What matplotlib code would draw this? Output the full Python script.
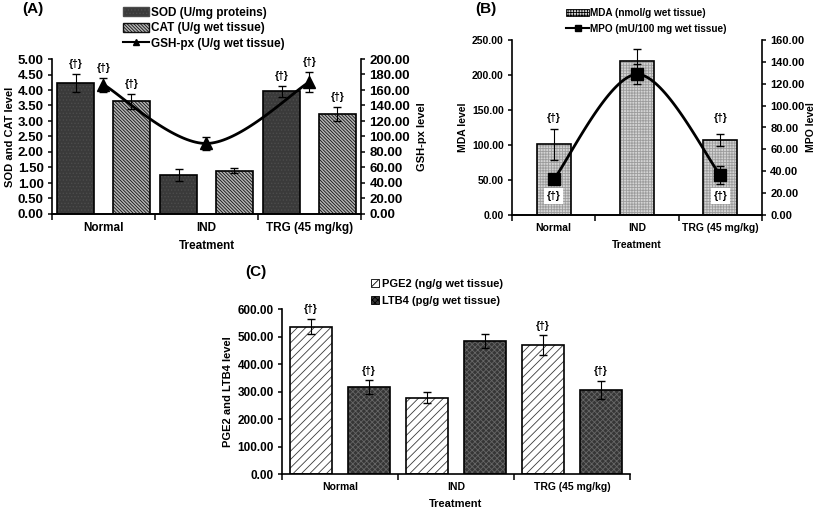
import numpy as np
import matplotlib
matplotlib.use('Agg')
import matplotlib.pyplot as plt
from matplotlib.patches import Patch
from matplotlib.lines import Line2D
from matplotlib.ticker import FormatStrFormatter, MultipleLocator

# ---- data ----
groups = ['Normal', 'IND', 'TRG (45 mg/kg)']

# (A)
sod = [4.22, 1.25, 3.96]
sod_err = [0.30, 0.20, 0.17]
cat = [3.63, 1.40, 3.23]
cat_err = [0.25, 0.08, 0.22]
gsh = [167.0, 91.0, 170.5]
gsh_err = [9.0, 8.0, 13.0]

# (B)
mda = [101.0, 220.5, 107.0]
mda_err = [22.0, 17.0, 8.0]
mpo = [32.5, 128.6, 36.6]
mpo_err = [0.0, 9.0, 8.5]

# (C)
pge2 = [536.0, 278.0, 469.0]
pge2_err = [28.0, 20.0, 35.0]
ltb4 = [316.0, 484.0, 306.0]
ltb4_err = [25.0, 26.0, 34.0]

DAG = '{\u2020}'

plt.rcParams['font.family'] = ['Liberation Sans', 'DejaVu Sans']
plt.rcParams['font.weight'] = 'bold'
plt.rcParams['axes.labelweight'] = 'bold'
plt.rcParams['hatch.linewidth'] = 0.6

# bar styles: face, hatch, hatch colour
ST_SOD = ('#3a3a3a', '.....', '#4c4c4c')
ST_CAT = ('#b4b4b4', '\\' * 10, '#111111')
ST_MDA = ('#d4d4d4', '++++++', '#9c9c9c')
ST_PGE = ('white', '////', '#3a3a3a')
ST_LTB = ('#363636', 'xxxxxx', '#666666')


def hbar(ax, x, h, w, st):
    face, hatch, hc = st
    ax.bar(x, h, w, color=face, hatch=hatch, edgecolor=hc, linewidth=0, zorder=2)
    ax.bar(x, h, w, fill=False, edgecolor='black', linewidth=1.2, zorder=3)


def smooth(xs, ys, n=40):
    # excel style smoothed line (cubic bezier through the points)
    pts = np.column_stack([xs, ys]).astype(float)
    p = np.vstack([pts[0], pts, pts[-1]])
    out = []
    t = np.linspace(0, 1, n)[:, None]
    for i in range(1, len(p) - 2):
        p0, p1, p2, p3 = p[i - 1], p[i], p[i + 1], p[i + 2]
        c1 = p1 + (p2 - p0) / 6.0
        c2 = p2 - (p3 - p1) / 6.0
        out.append((1 - t) ** 3 * p1 + 3 * (1 - t) ** 2 * t * c1
                   + 3 * (1 - t) * t ** 2 * c2 + t ** 3 * p2)
    out = np.vstack(out)
    return out[:, 0], out[:, 1]


def style_axis(ax, ymax, step, xsize, ysize, right=False):
    ax.set_xlim(-0.5, 2.5)
    ax.set_ylim(0, ymax)
    ax.yaxis.set_major_locator(MultipleLocator(step))
    ax.yaxis.set_major_formatter(FormatStrFormatter('%.2f'))
    ax.spines['top'].set_visible(False)
    if not right:
        ax.spines['right'].set_visible(False)
    for s in ['left', 'bottom', 'right']:
        ax.spines[s].set_linewidth(1.2)
    ax.set_xticks([0, 1, 2])
    ax.set_xticklabels(groups)
    ax.set_xticks([-0.5, 0.5, 1.5, 2.5], minor=True)
    ax.tick_params(axis='x', which='major', length=0, pad=6, labelsize=xsize)
    ax.tick_params(axis='x', which='minor', length=4, width=1.1, direction='out')
    ax.tick_params(axis='y', length=3, width=1.1, labelsize=ysize, pad=3)


def dag(ax, x, y, off=7):
    ax.annotate(DAG, (x, y), xytext=(0, off), textcoords='offset points',
                ha='center', va='center', fontsize=7.5, fontweight='bold')


fig = plt.figure(figsize=(8.17, 5.11), dpi=100)
x = np.arange(len(groups))

# ---------------- (A) ----------------
axA = fig.add_axes([52 / 817, 297 / 511, 309 / 817, 155 / 511])
style_axis(axA, 5.0, 0.5, 8.5, 9.5)
bw = 0.36
hbar(axA, x - 0.27, sod, bw, ST_SOD)
hbar(axA, x + 0.27, cat, bw, ST_CAT)
axA.errorbar(x - 0.27, sod, yerr=sod_err, fmt='none', ecolor='black', elinewidth=0.8, capsize=3, zorder=4)
axA.errorbar(x + 0.27, cat, yerr=cat_err, fmt='none', ecolor='black', elinewidth=0.8, capsize=3, zorder=4)
axA.set_ylabel('SOD and CAT level', fontsize=8, labelpad=2)
axA.set_xlabel('Treatment', fontsize=8.5, labelpad=4)

axA2 = axA.twinx()
style_axis(axA2, 200, 20, 8.5, 9.5, right=True)
sx, sy = smooth(x, gsh)
axA2.plot(sx, sy, color='black', lw=2, zorder=5)
axA2.errorbar(x, gsh, yerr=gsh_err, fmt='none', ecolor='black', elinewidth=0.8, capsize=3, zorder=5)
axA2.plot(x, gsh, ls='none', marker='^', ms=8, color='black', zorder=6)
axA2.set_ylabel('GSH-px level', fontsize=8, labelpad=5)
axA2.spines['left'].set_visible(False)

for i in [0, 2]:
    dag(axA, x[i] - 0.27, sod[i] + sod_err[i])
    dag(axA, x[i] + 0.27, cat[i] + cat_err[i])
    dag(axA2, x[i], gsh[i] + gsh_err[i])

fig.text(22 / 817, 1 - 9 / 511, '(A)', fontsize=11, fontweight='bold', va='center')
fig.legend(handles=[Patch(facecolor=ST_SOD[0], hatch=ST_SOD[1], edgecolor=ST_SOD[2]),
                    Patch(facecolor=ST_CAT[0], hatch=ST_CAT[1], edgecolor=ST_CAT[2]),
                    Line2D([], [], color='black', lw=1.5, marker='^', ms=4)],
           labels=['SOD (U/mg proteins)', 'CAT (U/g wet tissue)', 'GSH-px (U/g wet tissue)'],
           loc='upper left', bbox_to_anchor=(123 / 817, 1 - 7 / 511), frameon=False,
           fontsize=8.5, handlelength=2.2, handleheight=0.8, handletextpad=0.15,
           labelspacing=0.28, borderpad=0, borderaxespad=0)

# ---------------- (B) ----------------
axB = fig.add_axes([512 / 817, 296 / 511, 250 / 817, 175 / 511])
style_axis(axB, 250, 50, 7.5, 7.5)
hbar(axB, x, mda, 0.41, ST_MDA)
axB.errorbar(x, mda, yerr=mda_err, fmt='none', ecolor='black', elinewidth=0.8, capsize=3, zorder=4)
axB.set_ylabel('MDA level', fontsize=7.5, labelpad=3)
axB.set_xlabel('Treatment', fontsize=7.5, labelpad=5)

axB2 = axB.twinx()
style_axis(axB2, 160, 20, 7.5, 8.0, right=True)
sx, sy = smooth(x, mpo)
axB2.plot(sx, sy, color='black', lw=2, zorder=5)
axB2.errorbar(x, mpo, yerr=mpo_err, fmt='none', ecolor='black', elinewidth=0.8, capsize=3, zorder=5)
axB2.plot(x, mpo, ls='none', marker='s', ms=8, color='black', zorder=6)
axB2.set_ylabel('MPO level', fontsize=7.5, labelpad=1)
axB2.spines['left'].set_visible(False)

for i in [0, 2]:
    axB.text(x[i], 139, DAG, ha='center', va='center', fontsize=7.5, fontweight='bold')
    axB.text(x[i], 27, DAG, ha='center', va='center', fontsize=7.5, fontweight='bold', zorder=7,
             bbox=dict(facecolor='white', edgecolor='none', pad=2))

fig.text(475 / 817, 1 - 9 / 511, '(B)', fontsize=11, fontweight='bold', va='center')
fig.legend(handles=[Patch(facecolor=ST_MDA[0], hatch=ST_MDA[1], edgecolor='black', lw=0.6),
                    Line2D([], [], color='black', lw=1.5, marker='s', ms=4)],
           labels=['MDA (nmol/g wet tissue)', 'MPO (mU/100 mg wet tissue)'],
           loc='upper left', bbox_to_anchor=(566 / 817, 1 - 8 / 511), frameon=False,
           fontsize=7.2, handlelength=2.3, handleheight=0.8, handletextpad=0.15,
           labelspacing=0.6, borderpad=0, borderaxespad=0)

# ---------------- (C) ----------------
axC = fig.add_axes([282 / 817, 37 / 511, 348 / 817, 165 / 511])
style_axis(axC, 600, 100, 7.5, 8.5)
hbar(axC, x - 0.25, pge2, bw, ST_PGE)
hbar(axC, x + 0.25, ltb4, bw, ST_LTB)
axC.errorbar(x - 0.25, pge2, yerr=pge2_err, fmt='none', ecolor='black', elinewidth=0.8, capsize=3, zorder=4)
axC.errorbar(x + 0.25, ltb4, yerr=ltb4_err, fmt='none', ecolor='black', elinewidth=0.8, capsize=3, zorder=4)
axC.set_ylabel('PGE2 and LTB4 level', fontsize=8, labelpad=3)
axC.set_xlabel('Treatment', fontsize=8, labelpad=5)
for i in [0, 2]:
    dag(axC, x[i] - 0.25, pge2[i] + pge2_err[i])
    dag(axC, x[i] + 0.25, ltb4[i] + ltb4_err[i])

fig.text(245 / 817, 1 - 272 / 511, '(C)', fontsize=11, fontweight='bold', va='center')
fig.legend(handles=[Patch(facecolor=ST_PGE[0], hatch=ST_PGE[1], edgecolor='black', lw=0.6),
                    Patch(facecolor=ST_LTB[0], hatch=ST_LTB[1], edgecolor='black', lw=0.6)],
           labels=['PGE2 (ng/g wet tissue)', 'LTB4 (pg/g wet tissue)'],
           loc='upper left', bbox_to_anchor=(371 / 817, 1 - 279 / 511), frameon=False,
           fontsize=8, handlelength=0.7, handleheight=0.7, handletextpad=0.3,
           labelspacing=0.65, borderpad=0, borderaxespad=0)

fig.savefig('out.png', dpi=100)
